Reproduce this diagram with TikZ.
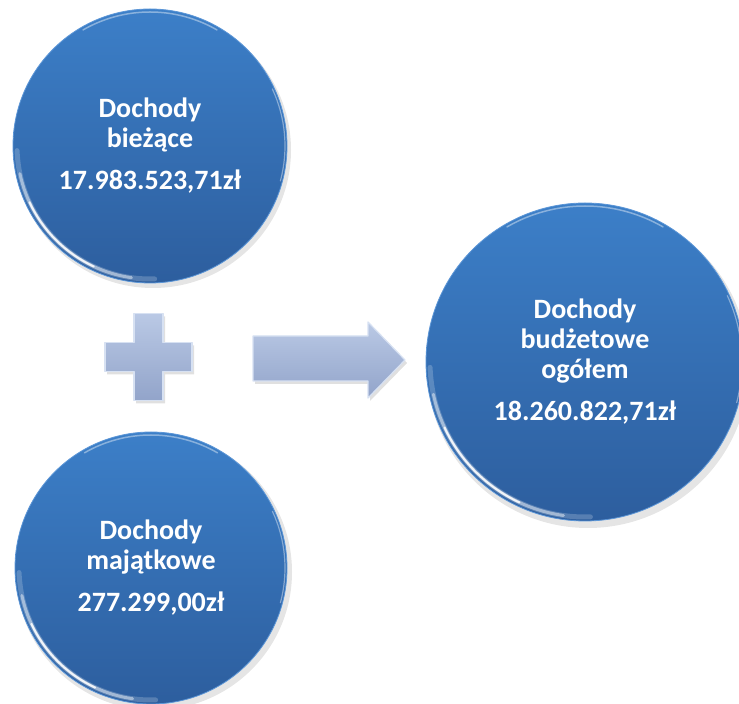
\documentclass[tikz,border=0pt]{standalone}
\usepackage{fontspec}
\setmainfont{Carlito}
\usetikzlibrary{calc}
\definecolor{ctop}{RGB}{60,127,200}
\definecolor{cbot}{RGB}{45,94,158}
\definecolor{crim}{RGB}{92,150,215}
\definecolor{stop}{RGB}{186,201,229}
\definecolor{sbot}{RGB}{146,164,202}
\definecolor{srim}{RGB}{215,225,242}
\tikzset{
  bubble/.style={circle, inner sep=0pt, top color=ctop, bottom color=cbot,
    draw=crim, line width=0.8pt, text=white, align=center,
    font=\bfseries\fontsize{28}{30}\selectfont},
  shadowdisc/.style={fill=black, opacity=0.10},
  glint/.style={white, line cap=round},
  shapefill/.style={top color=stop, bottom color=sbot, draw=srim, line width=1.2pt, line join=round},
  shapeshadow/.style={fill=black, opacity=0.12, line join=round}
}
\begin{document}
\begin{tikzpicture}[x=1pt,y=1pt]
\useasboundingbox (0,0) rectangle (739,704);
% shadows
\fill[shadowdisc] (153,554) circle (138);
\fill[shadowdisc] (154,132) circle (138);
\fill[shadowdisc] (588,337) circle (161);
% bubbles
\node[bubble, minimum size=274pt] (cur) at (150,558) {Dochody\\bieżące\\[12pt]17.983.523,71zł};
\node[bubble, minimum size=272pt] (cap) at (151,136) {Dochody\\majątkowe\\[12pt]277.299,00zł};
\node[bubble, minimum size=318pt] (tot) at (585,342) {Dochody\\budżetowe\\ogółem\\[12pt]18.260.822,71zł};
% glints
\foreach \n/\r in {cur/137,cap/136,tot/159}{
  \draw[glint, line width=5pt, opacity=0.2] ($(\n.center)+(182:\r-4)$) arc (182:272:\r-4);
  \draw[glint, line width=3pt, opacity=0.45] ($(\n.center)+(192:\r-4)$) arc (192:262:\r-4);
  \draw[glint, line width=2pt, opacity=0.85] ($(\n.center)+(205:\r-4)$) arc (205:245:\r-4);
  \draw[glint, line width=1.5pt, opacity=0.4] ($(\n.center)+(60:\r-3)$) arc (60:120:\r-3);
  \draw[glint, line width=1.2pt, opacity=0.4] ($(\n.center)+(-15:\r-2)$) arc (-15:25:\r-2);
}
% plus sign
\coordinate (pc) at (148.5,347);
\fill[shapeshadow] ($(pc)+(-43.5+2,-14.5-3)$) -- ++(29,0) -- ++(0,-29) -- ++(29,0) -- ++(0,29) -- ++(29,0)
  -- ++(0,29) -- ++(-29,0) -- ++(0,29) -- ++(-29,0) -- ++(0,-29) -- ++(-29,0) -- cycle;
\path[shapefill] ($(pc)+(-43.5,-14.5)$) coordinate (p0) -- ++(29,0) -- ++(0,-29) -- ++(29,0) -- ++(0,29) -- ++(29,0)
  -- ++(0,29) -- ++(-29,0) -- ++(0,29) -- ++(-29,0) -- ++(0,-29) -- ++(-29,0) -- cycle;
% arrow
\coordinate (a0) at (253,323);
\fill[shapeshadow] (255,320) -- (370,320) -- (370,303) -- (407,341) -- (370,379) -- (370,365) -- (255,365) -- cycle;
\path[shapefill] (a0) -- (368,323) -- (368,306) -- (405,344) -- (368,382) -- (368,368) -- (253,368) -- cycle;
\end{tikzpicture}
\end{document}
